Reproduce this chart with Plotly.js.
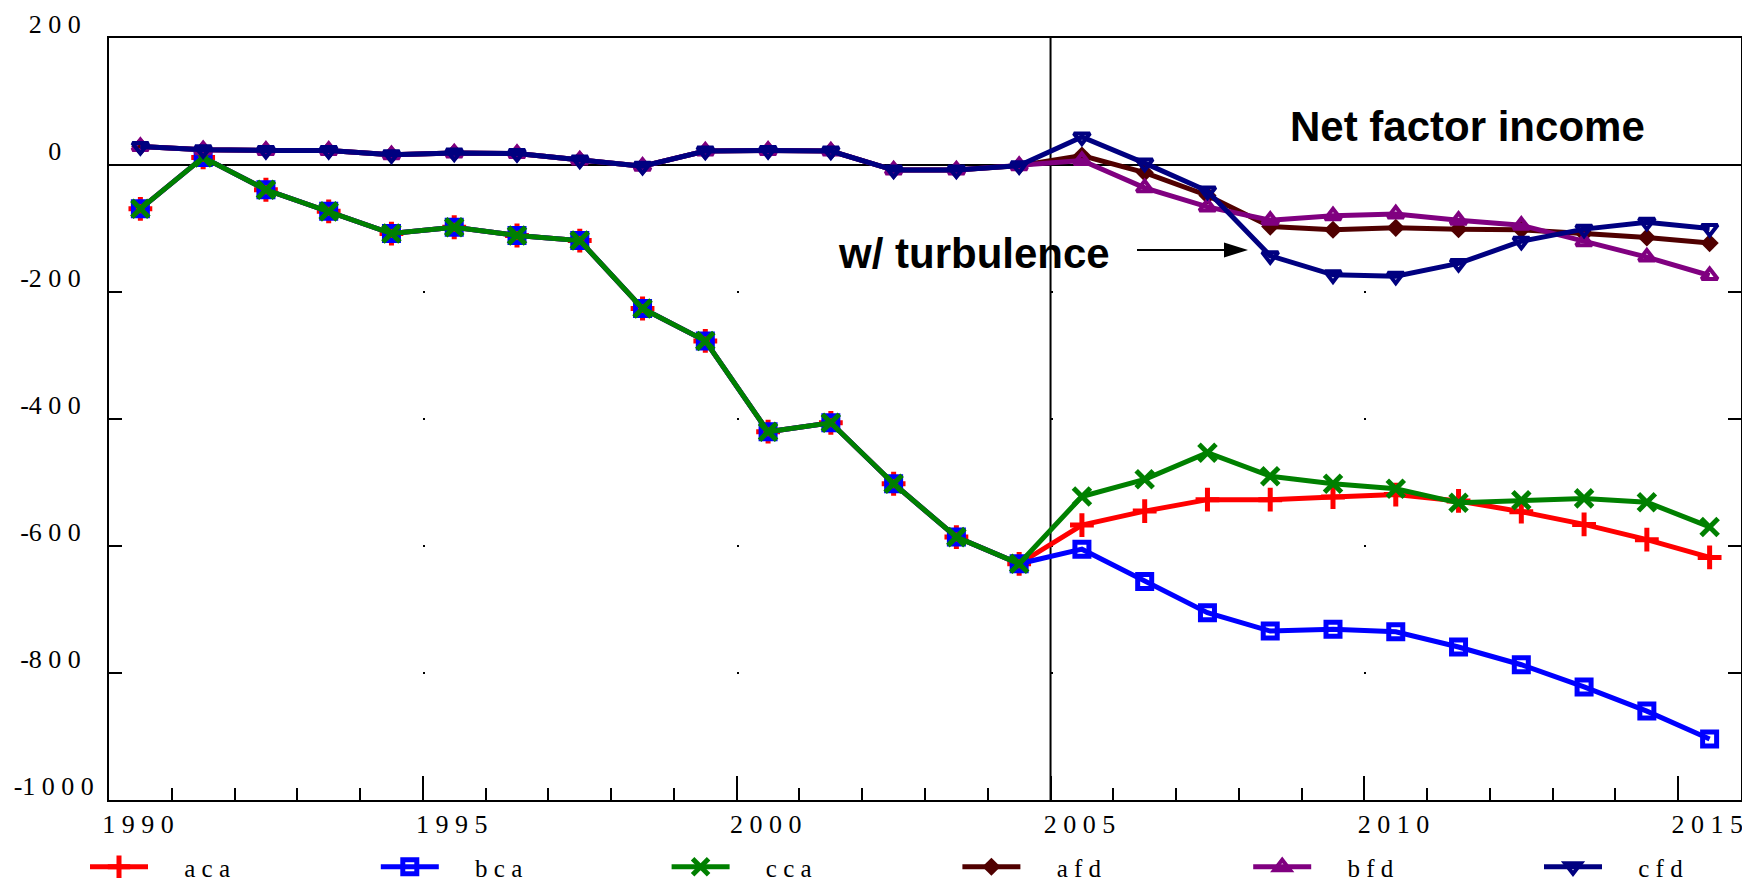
<!DOCTYPE html>
<html><head><meta charset="utf-8">
<script src="https://cdn.plot.ly/plotly-3.0.1.min.js"></script>
<style>
html,body{margin:0;padding:0;background:#fff;overflow:hidden;}
#wrap{width:1742px;height:883px;overflow:hidden;position:relative;}
#chart{width:1742px;height:900px;}
</style>
</head><body><div id="wrap"><div id="chart"></div></div>
<script>
const years = [1990,1991,1992,1993,1994,1995,1996,1997,1998,1999,2000,2001,2002,2003,2004,2005,2006,2007,2008,2009,2010,2011,2012,2013,2014,2015];

const aca = [-69,12,-39,-73,-108,-98,-111,-119,-226,-277,-420,-406,-502,-586,-628,-567,-545,-527,-527,-523,-519,-529,-546,-566,-590,-618];
const bca = [-69,12,-39,-73,-108,-98,-111,-119,-226,-277,-420,-406,-502,-586,-628,-605,-656,-705,-734,-731,-735,-759,-787,-822,-860,-904];
const cca = [-69,12,-39,-73,-108,-98,-111,-119,-226,-277,-420,-406,-502,-586,-628,-522,-495,-453,-490,-502,-510,-532,-528,-525,-531,-570];
const afd = [29,24,23,23,16,19,18,8,-2,22,23,22,-8,-8,-1,15,-12,-48,-97,-102,-99,-101,-102,-108,-114,-123];
const bfd = [29,24,23,23,16,19,18,8,-2,22,23,22,-8,-8,-1,7,-36,-66,-87,-80,-77,-87,-95,-121,-145,-174];
const cfd = [29,24,23,23,16,19,18,8,-2,22,23,22,-8,-8,-1,44,3,-41,-143,-173,-175,-155,-120,-101,-90,-100];

const seriesNames = ['aca','bca','cca','afd','bfd','cfd'];
const xTickLabels = ['1990','1995','2000','2005','2010','2015'];
const yTickVals = [200,0,-200,-400,-600,-800,-1000];
const yTickLabels = ['200','0','-200','-400','-600','-800','-1000'];
const splitAt = 2005;
const annTitle = 'Net factor income';
const annArrow = 'w/ turbulence';

const spaced = s => s.split('').join(' ').replace('- ', '-');
const FS = '\u2007', PS = '\u2008', NB = '\u00a0';
const yPad = {'200': FS, '0': FS + FS + PS, '-1000': ''};
const yText = yTickLabels.map(l => spaced(l) + (l in yPad ? yPad[l] : FS));

const styles = {
  aca: {color:'#FF0000', marker:{symbol:'cross-thin', size:17, color:'#FF0000', line:{color:'#FF0000', width:5}}},
  bca: {color:'#0000FF', marker:{symbol:'square-open', size:14, color:'#0000FF', line:{color:'#0000FF', width:5}}},
  cca: {color:'#008000', marker:{symbol:'x-thin', size:17, color:'#008000', line:{color:'#008000', width:5}}},
  afd: {color:'#500000', marker:{symbol:'diamond', size:14, color:'#500000', line:{width:0}}},
  bfd: {color:'#800080', marker:{symbol:'triangle-up-open', size:14, color:'#800080', line:{color:'#800080', width:4}}},
  cfd: {color:'#000080', marker:{symbol:'triangle-down-open', size:14, color:'#000080', line:{color:'#000080', width:4}}}
};
const values = {aca, bca, cca, afd, bfd, cfd};

const legendIds = seriesNames.map((n, i) => i === 0 ? 'legend' : 'legend' + (i + 1));

const traces = seriesNames.map((n, i) => ({
  type:'scatter', mode:'lines+markers', x: years, y: values[n],
  name: NB.repeat(5) + spaced(n),
  legend: legendIds[i],
  line:{color: styles[n].color, width:5},
  marker: styles[n].marker,
  cliponaxis:false
}));

const FIG_W = 1742, FIG_H = 900;
const plotL = 109, plotR = 1741, plotT = 38, plotB = 800;
const px2x = p => (p - plotL) / (plotR - plotL);
const px2y = p => 1 - (p - plotT) / (plotB - plotT);

const layout = {
  width:FIG_W, height:FIG_H,
  margin:{l:plotL, r:FIG_W-plotR, t:plotT, b:FIG_H-plotB, pad:0},
  paper_bgcolor:'#ffffff', plot_bgcolor:'#ffffff',
  font:{family:'Liberation Serif', size:26, color:'#000'},
  showlegend:true,
  xaxis:{range:[years[0]-0.5, years[years.length-1]+0.5], tickmode:'array',
    tickvals: xTickLabels.map(l => +l - 0.5), ticktext: xTickLabels.map(spaced),
    ticks:'inside', ticklen:24, tickwidth:2, tickcolor:'#000', ticklabelshift:29, ticklabeloverflow:'allow',
    showline:true, linecolor:'#000', linewidth:2, mirror:true, showgrid:false, zeroline:false,
    minor:{tickmode:'linear', tick0:1989.5, dtick:1, ticks:'inside', ticklen:12, tickwidth:2, tickcolor:'#000', showgrid:false},
    tickfont:{family:'Liberation Serif', size:26, color:'#000'}, fixedrange:true},
  yaxis:{range:[-1000,200], tickmode:'array', tickvals:yTickVals, ticktext:yText,
    ticks:'inside', ticklen:13, tickwidth:2, tickcolor:'#000',
    showline:true, linecolor:'#000', linewidth:2, mirror:'ticks',
    showgrid:true, gridcolor:'#000', gridwidth:2,
    griddash:'2px,311.85px,2px,311.85px,2px,311.85px,2px,311.85px,2px,1200px',
    zeroline:true, zerolinecolor:'#000', zerolinewidth:1.5,
    ticklabelshift:-14, ticklabelstandoff:8, ticklabeloverflow:'allow',
    tickfont:{family:'Liberation Serif', size:26, color:'#000'}, fixedrange:true},
  shapes:[
    {type:'line', xref:'x', yref:'paper', x0:splitAt-0.5, x1:splitAt-0.5, y0:0, y1:1, line:{color:'#000', width:2}, layer:'below'},
    {type:'line', xref:'paper', yref:'paper', x0:px2x(1137), x1:px2x(1228), y0:px2y(250), y1:px2y(250), line:{color:'#000', width:2}},
    {type:'path', xref:'paper', yref:'paper', xsizemode:'pixel', ysizemode:'pixel', xanchor:px2x(1248), yanchor:px2y(250),
      path:'M0,0L-24,7.5L-24,-7.5Z', fillcolor:'#000', line:{width:0}}
  ],
  annotations:[
    {text:annTitle, xref:'paper', yref:'paper', x:px2x(1467), y:px2y(127), xanchor:'center', yanchor:'middle', showarrow:false,
      font:{family:'Liberation Sans', size:42, weight:'bold', color:'#000'}},
    {text:annArrow, xref:'paper', yref:'paper', x:px2x(974.5), y:px2y(253.4), xanchor:'center', yanchor:'middle', showarrow:false,
      font:{family:'Liberation Sans', size:42, weight:'bold', color:'#000'}}
  ]
};

const legendStep = 290.8;
legendIds.forEach((id, i) => {
  layout[id] = {orientation:'h', x:px2x(85 + i * legendStep), xanchor:'left', y:px2y(867), yanchor:'middle',
    itemwidth:58, font:{family:'Liberation Serif', size:25, color:'#000'}, bgcolor:'rgba(0,0,0,0)'};
});

Plotly.newPlot('chart', traces, layout, {displayModeBar:false, staticPlot:true});
</script>
</body></html>
